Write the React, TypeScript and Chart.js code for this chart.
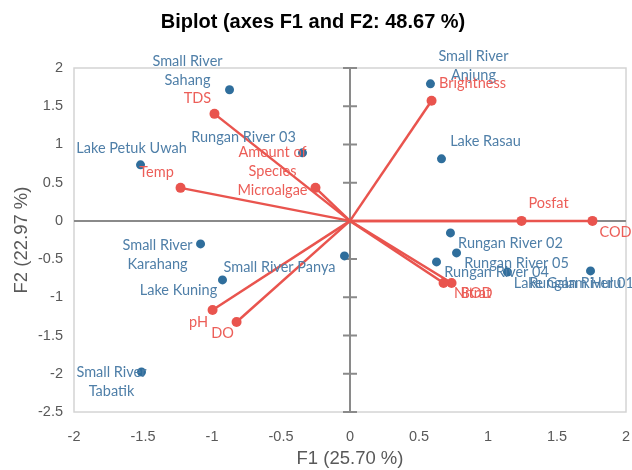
import React, { useEffect, useRef } from "react";
import { Chart, registerables } from "chart.js";

Chart.register(...registerables);

// Observations (blue)
const obsNames = [
  "Small River\nSahang",
  "Rungan River 03",
  "Lake Petuk Uwah",
  "Small River\nAnjung",
  "Lake Rasau",
  "Small River\nKarahang",
  "Lake Kuning",
  "Small River Panya",
  "Small River\nTabatik",
  "Rungan River 02",
  "Rungan River 05",
  "Rungan River 04",
  "Lake Galam Hulu",
  "Rungan River 01",
];
const obsF1 = [-0.873, -0.344, -1.518, 0.583, 0.663, -1.083, -0.924, -0.04, -1.511, 0.728, 0.772, 0.627, 1.141, 1.743];
const obsF2 = [1.715, 0.89, 0.733, 1.793, 0.812, -0.301, -0.772, -0.458, -1.976, -0.157, -0.419, -0.537, -0.668, -0.654];

// Variables (red)
const varNames = [
  "TDS",
  "Temp",
  "Amount of\nSpecies\nMicroalgae",
  "Brightness",
  "Posfat",
  "COD",
  "pH",
  "DO",
  "Nitrat",
  "BOD",
];
const varF1 = [-0.982, -1.228, -0.25, 0.591, 1.243, 1.757, -0.996, -0.822, 0.678, 0.736];
const varF2 = [1.4, 0.432, 0.432, 1.571, 0, 0, -1.165, -1.322, -0.812, -0.812];

const xTicks = [-2, -1.5, -1, -0.5, 0, 0.5, 1, 1.5, 2];
const yTicks = [-2.5, -2, -1.5, -1, -0.5, 0, 0.5, 1, 1.5, 2];

// Label placement (pixel offsets of label centre from the point)
const obsLabelOffset: [number, number][] = [
  [-42, -28], [-59, -16], [-9, -17], [43, -27], [44, -17], [-43, 1], [-44, 10],
  [-65, 11], [-30, 0], [60, 10], [60, 10], [60, 10], [60, 11], [-9, 12],
];
const varLabelOffset: [number, number][] = [
  [-17, -16], [-24, -16], [-43, -36], [41, -17], [27, -18], [23, 11], [-14, 12],
  [-14, 11], [29, 10], [25, 10],
];

const BLUE_PT = "#2f6e9c";
const BLUE_TXT = "#4f7fa8";
const RED = "#e9544e";
const RED_TXT = "#ec5e58";
const LABEL_FONT = "14.5px Lato, 'Open Sans', sans-serif";
const LINE_H = 19;
const SANS = "'Liberation Sans', Arial, sans-serif";

const biplotPlugin = {
  id: "biplotDecor",
  beforeDatasetsDraw(chart: any) {
    const { ctx, chartArea: a, scales } = chart;
    const x0 = scales.x.getPixelForValue(0);
    const y0 = scales.y.getPixelForValue(0);
    ctx.save();
    ctx.strokeStyle = "#d4d4d4";
    ctx.lineWidth = 1.5;
    ctx.strokeRect(a.left, a.top, a.right - a.left, a.bottom - a.top);
    ctx.strokeStyle = "#8a8a8a";
    ctx.lineWidth = 2;
    ctx.beginPath();
    ctx.moveTo(a.left, y0);
    ctx.lineTo(a.right, y0);
    ctx.moveTo(x0, a.top);
    ctx.lineTo(x0, a.bottom);
    for (const t of yTicks) {
      const py = scales.y.getPixelForValue(t);
      ctx.moveTo(x0 - 7, py);
      ctx.lineTo(x0 + 7, py);
    }
    ctx.stroke();
    ctx.restore();
  },
  afterDatasetsDraw(chart: any) {
    const { ctx, scales } = chart;
    ctx.save();
    ctx.font = LABEL_FONT;
    ctx.textAlign = "center";
    ctx.textBaseline = "middle";
    const draw = (name: string, fx: number, fy: number, off: [number, number], color: string) => {
      const px = scales.x.getPixelForValue(fx) + off[0];
      const py = scales.y.getPixelForValue(fy) + off[1];
      ctx.fillStyle = color;
      name.split("\n").forEach((ln, i) => ctx.fillText(ln, px, py + i * LINE_H));
    };
    obsNames.forEach((n, i) => draw(n, obsF1[i], obsF2[i], obsLabelOffset[i], BLUE_TXT));
    varNames.forEach((n, i) => draw(n, varF1[i], varF2[i], varLabelOffset[i], RED_TXT));
    ctx.restore();
  },
};

export default function App() {
  const ref = useRef<HTMLCanvasElement>(null);
  useEffect(() => {
    if (!ref.current) return;
    const datasets: any[] = [
      {
        type: "scatter",
        label: "Observations",
        data: obsF1.map((x, i) => ({ x, y: obsF2[i] })),
        backgroundColor: BLUE_PT,
        borderColor: BLUE_PT,
        borderWidth: 0,
        pointRadius: 4.5,
        order: 2,
      },
      ...varNames.map((n, i) => ({
        type: "line",
        label: n,
        data: [
          { x: 0, y: 0 },
          { x: varF1[i], y: varF2[i] },
        ],
        borderColor: RED,
        backgroundColor: RED,
        borderWidth: 2.5,
        pointBorderWidth: 0,
        pointRadius: [0, 5],
        pointHoverRadius: [0, 5],
        fill: false,
        order: 1,
      })),
    ];
    const chart = new Chart(ref.current, {
      type: "scatter",
      data: { datasets },
      plugins: [biplotPlugin],
      options: {
        animation: false,
        responsive: false,
        maintainAspectRatio: false,
        layout: { padding: { left: 0, right: 6, top: 0, bottom: 0 } },
        plugins: {
          legend: { display: false },
          tooltip: { enabled: false },
          title: {
            display: true,
            text: "Biplot (axes F1 and F2: 48.67 %)",
            color: "#000",
            font: { family: SANS, size: 20, weight: "bold" },
            padding: { top: 10, bottom: 34 },
          },
        },
        scales: {
          x: {
            type: "linear",
            min: -2,
            max: 2,
            afterBuildTicks: (s: any) => {
              s.ticks = xTicks.map((v) => ({ value: v }));
            },
            afterFit: (s: any) => {
              s.height = 58;
              s.paddingLeft = 0;
              s.paddingRight = 0;
            },
            grid: { display: false, drawTicks: false },
            border: { display: false },
            ticks: {
              color: "#595959",
              font: { family: SANS, size: 14.5 },
              padding: 16,
              autoSkip: false,
              maxRotation: 0,
              callback: (v: any) => String(v),
            },
            title: {
              display: true,
              text: "F1 (25.70 %)",
              color: "#595959",
              font: { family: SANS, size: 18.5 },
              padding: { top: 0, bottom: 0 },
            },
          },
          y: {
            type: "linear",
            min: -2.5,
            max: 2,
            afterBuildTicks: (s: any) => {
              s.ticks = yTicks.map((v) => ({ value: v }));
            },
            afterFit: (s: any) => {
              s.width = 74;
            },
            grid: { display: false, drawTicks: false },
            border: { display: false },
            ticks: {
              color: "#595959",
              font: { family: SANS, size: 14.5 },
              padding: 11,
              autoSkip: false,
              callback: (v: any) => String(v),
            },
            title: {
              display: true,
              text: "F2 (22.97 %)",
              color: "#595959",
              font: { family: SANS, size: 18.5 },
              padding: { top: 11, bottom: 0 },
            },
          },
        },
      },
    });
    return () => chart.destroy();
  }, []);
  return (
    <div style={{ position: "fixed", left: 0, top: 0, width: 632, height: 470, background: "#fff" }}>
      <canvas ref={ref} width={632} height={470} style={{ width: 632, height: 470 }} />
    </div>
  );
}
